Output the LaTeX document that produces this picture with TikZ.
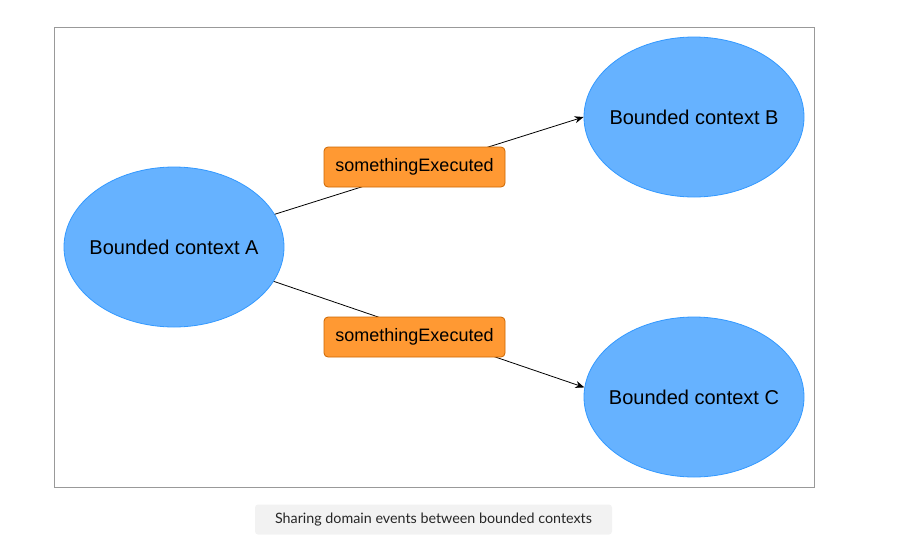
\documentclass[tikz,border=0pt]{standalone}
\usepackage{fontspec}
\setmainfont{Liberation Sans}
\newfontfamily\capfont{Lato}
\usetikzlibrary{shapes.geometric,arrows.meta}
\definecolor{ctxfill}{HTML}{66B2FF}
\definecolor{ctxline}{HTML}{3399FF}
\definecolor{evfill}{HTML}{FF9933}
\definecolor{evline}{HTML}{CC6600}
\definecolor{framegray}{HTML}{999999}
\definecolor{capfill}{HTML}{F2F2F2}
\newcommand{\ctxlabel}[1]{\makebox[0pt]{#1}}
\tikzset{
  ctx/.style={ellipse, draw=ctxline, fill=ctxfill, line width=0.8pt, minimum width=220pt, minimum height=160pt, inner sep=0pt, font=\fontsize{20}{22}\selectfont},
  ev/.style={rectangle, rounded corners=4pt, draw=evline, fill=evfill, line width=0.8pt, minimum width=181pt, minimum height=40pt, inner sep=0pt, font=\fontsize{18}{20}\selectfont},
  conn/.style={draw=black, line width=0.8pt},
  arr/.style={conn, -{Stealth[length=9pt,width=7pt]}},
}
\begin{document}
\begin{tikzpicture}[x=1pt,y=-1pt]
\useasboundingbox (0,0) rectangle (918,544);
\node[draw=framegray, line width=1pt, minimum width=760pt, minimum height=460pt, inner sep=0pt] (frame) at (434,257) {};
\node[ctx] (A) at (174,247) {\ctxlabel{Bounded context A}};
\node[ctx] (B) at (694,117) {\ctxlabel{Bounded context B}};
\node[ctx] (C) at (694,397) {\ctxlabel{Bounded context C}};
\draw[arr] (A.18) -- (B.west);
\draw[arr] (A.-19.5) -- (C.175.5);
\node[ev] (e1) at (414.5,167) {somethingExecuted};
\node[ev] (e2) at (414.5,337) {somethingExecuted};
\node[fill=capfill, rounded corners=3pt, minimum width=357pt, minimum height=30pt, inner sep=0pt, font=\capfont\fontsize{14.3}{16}\selectfont, text=black!85] (cap) at (433.5,519.5) {Sharing domain events between bounded contexts};
\end{tikzpicture}
\end{document}
